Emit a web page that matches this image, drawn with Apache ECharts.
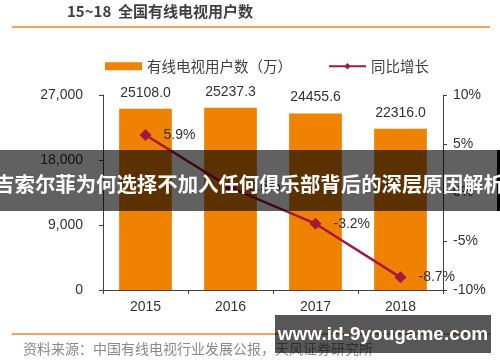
<!DOCTYPE html>
<html><head><meta charset="utf-8">
<script src="https://cdn.jsdelivr.net/npm/echarts@6/dist/echarts.min.js"></script>
<style>html,body{margin:0;padding:0;background:#fff}#c{width:500px;height:362px}</style>
</head><body><div id="c"></div>
<script>
const categories = ['2015', '2016', '2017', '2018'];
const users = [25108.0, 25237.3, 24455.6, 22316.0];
const growth = [5.9, 0.5, -3.2, -8.7];
const leftTicks = [0, 9000, 18000, 27000];
const rightTicks = [-10, -5, 0, 5, 10];
const titleText = '15~18  全国有线电视用户数';
const barName = '有线电视用户数（万）';
const lineName = '同比增长';
const sourceText = '资料来源：中国有线电视行业发展公报，天风证券研究所';
const bannerText = '吉索尔菲为何选择不加入任何俱乐部背后的深层原因解析';
const siteText = 'www.id-9yougame.com';

const chart = echarts.init(document.getElementById('c'), null, {renderer: 'canvas'});
const numFont = 'Liberation Sans, Arial, sans-serif';
const cjk = '"Noto Sans CJK SC", sans-serif';
chart.setOption({
  animation: false,
  backgroundColor: '#fff',
  grid: {left: 103, right: 57, top: 95, bottom: 72, containLabel: false},
  legend: {
    left: 100, top: 54, itemWidth: 37, itemHeight: 8, itemGap: 36,
    textStyle: {fontFamily: cjk, fontSize: 14.5, color: '#404040'},
    data: [{name: barName, icon: 'rect'}, {name: lineName}]
  },
  xAxis: {
    type: 'category', data: categories,
    axisLine: {lineStyle: {color: '#404040', width: 1}},
    axisTick: {show: true, length: 4, lineStyle: {color: '#404040'}},
    axisLabel: {fontFamily: numFont, fontSize: 14, color: '#333', margin: 10}
  },
  yAxis: [{
    type: 'value', min: leftTicks[0], max: leftTicks[leftTicks.length - 1], interval: 9000,
    splitLine: {show: false},
    axisLine: {show: true, lineStyle: {color: '#404040'}},
    axisTick: {show: true, inside: false, length: 4, lineStyle: {color: '#404040'}},
    axisLabel: {fontFamily: numFont, fontSize: 14, color: '#333', margin: 20,
      formatter: v => v.toLocaleString('en-US')}
  }, {
    type: 'value', min: rightTicks[0], max: rightTicks[rightTicks.length - 1], interval: 5,
    position: 'right',
    splitLine: {show: false},
    axisLine: {show: true, lineStyle: {color: '#404040'}},
    axisTick: {show: true, length: 4, lineStyle: {color: '#404040'}},
    axisLabel: {fontFamily: numFont, fontSize: 14, color: '#333', margin: 10,
      formatter: '{value}%'}
  }],
  series: [{
    name: barName, type: 'bar', data: users, barWidth: '62%',
    itemStyle: {color: '#EF8200'},
    label: {show: true, position: 'top', distance: 9, fontFamily: numFont, fontSize: 14, color: '#333',
      formatter: p => p.value.toFixed(1)}
  }, {
    name: lineName, type: 'line', yAxisIndex: 1, data: growth,
    symbol: 'diamond', symbolSize: 12,
    lineStyle: {color: '#A5173F', width: 2.5},
    itemStyle: {color: '#A5173F'},
    label: {show: true, position: 'right', distance: 12, fontFamily: numFont, fontSize: 14, color: '#333',
      formatter: p => p.value.toFixed(1) + '%'},
    z: 5
  }],
  graphic: [
    {type: 'text', left: 67, top: 4, style: {text: titleText, font: 'bold 15px "Noto Sans CJK SC", sans-serif', fill: '#404040'}},
    {type: 'rect', shape: {x: 12, y: 26, width: 478, height: 2}, style: {fill: '#F2A55A'}},
    {type: 'rect', shape: {x: 12, y: 333, width: 478, height: 2}, style: {fill: '#F2A55A'}},
    {type: 'text', left: 23, top: 342, style: {text: sourceText, font: '14px "Noto Sans CJK SC", sans-serif', fill: '#8a8a8a'}},
    {type: 'rect', z: 100, shape: {x: 0, y: 150, width: 497, height: 61}, style: {fill: 'rgba(0,0,0,0.62)'}},
    {type: 'rect', z: 100, shape: {x: 497, y: 150, width: 3, height: 61}, style: {fill: '#000'}},
    {type: 'text', z: 101, x: 249, y: 184, style: {text: bannerText, font: 'bold 20.4px "Noto Sans CJK SC", sans-serif', fill: '#fff', align: 'center', verticalAlign: 'middle'}},
    {type: 'rect', z: 100, shape: {x: 275, y: 315, width: 216, height: 38}, style: {fill: 'rgba(0,0,0,0.66)'}},
    {type: 'text', z: 101, x: 383, y: 335, style: {text: siteText, font: 'bold 19px "Liberation Sans", Arial, sans-serif', fill: '#fff', align: 'center', verticalAlign: 'middle'}}
  ]
});
</script></body></html>
